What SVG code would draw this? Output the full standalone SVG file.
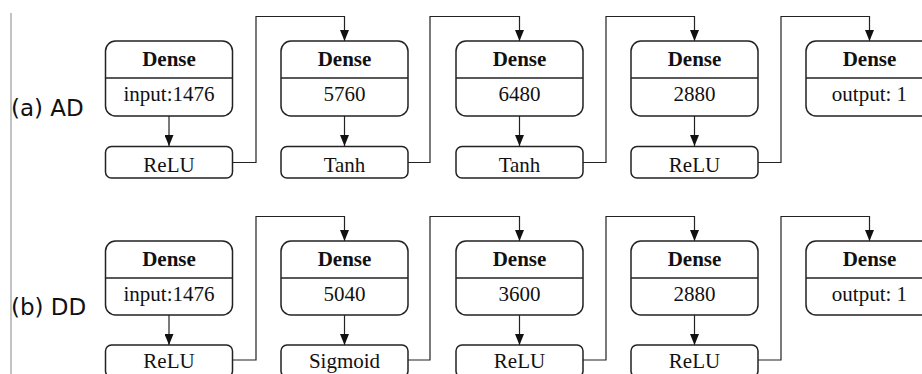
<svg xmlns="http://www.w3.org/2000/svg" width="922" height="374" viewBox="0 0 922 374">
<defs>
<marker id="ah" markerWidth="11" markerHeight="9" refX="11" refY="4.5" orient="auto" markerUnits="userSpaceOnUse" viewBox="0 0 11 9">
<path d="M0,0 L11,4.5 L0,9 Z" fill="#111"/>
</marker>
<style>
.box{fill:#fff;stroke:#222;stroke-width:1.5}
.div{stroke:#222;stroke-width:1.5}
.t{font-family:"Liberation Serif","Times New Roman",serif;font-size:21px;fill:#111;text-anchor:middle}
.b{font-weight:bold}
.lab{font-family:"DejaVu Sans",sans-serif;font-size:23px;fill:#111}
.c{fill:none;stroke:#222;stroke-width:1.2}
</style>
</defs>
<rect width="922" height="374" fill="#fff"/>
<line x1="11" y1="13" x2="11" y2="374" stroke="#888" stroke-width="1"/>
<text class="lab" x="11" y="116">(a) AD</text>
<text class="lab" x="11" y="315">(b) DD</text>

<g id="connectors">
<path class="c" d="M169,116 V146" marker-end="url(#ah)"/>
<path class="c" d="M344.5,116 V146" marker-end="url(#ah)"/>
<path class="c" d="M519.5,116 V146" marker-end="url(#ah)"/>
<path class="c" d="M694.5,116 V146" marker-end="url(#ah)"/>
<path class="c" d="M232,162.5 H256 V16.5 H344.5 V41" marker-end="url(#ah)"/>
<path class="c" d="M407,162.5 H430 V16.5 H519.5 V41" marker-end="url(#ah)"/>
<path class="c" d="M582,162.5 H606 V16.5 H694.5 V41" marker-end="url(#ah)"/>
<path class="c" d="M757,162.5 H781 V16.5 H869.5 V41" marker-end="url(#ah)"/>
<path class="c" d="M169,315 V345" marker-end="url(#ah)"/>
<path class="c" d="M344.5,315 V345" marker-end="url(#ah)"/>
<path class="c" d="M519.5,315 V345" marker-end="url(#ah)"/>
<path class="c" d="M694.5,315 V345" marker-end="url(#ah)"/>
<path class="c" d="M232,360 H256 V216.5 H344.5 V241" marker-end="url(#ah)"/>
<path class="c" d="M407,360 H430 V216.5 H519.5 V241" marker-end="url(#ah)"/>
<path class="c" d="M582,360 H606 V216.5 H694.5 V241" marker-end="url(#ah)"/>
<path class="c" d="M757,360 H781 V216.5 H869.5 V241" marker-end="url(#ah)"/>
</g>

<g id="a-dense1"><rect class="box" x="105.5" y="41" width="127" height="75" rx="10"/><line class="div" x1="105.5" y1="78" x2="232.5" y2="78"/><text class="t b" x="169" y="66">Dense</text><text class="t" x="169" y="101">input:1476</text></g>
<g id="a-act1"><rect class="box" x="105.5" y="146.5" width="127" height="31.5" rx="6"/><text class="t" x="169" y="172">ReLU</text></g>
<g id="a-dense2"><rect class="box" x="281" y="41" width="127" height="75" rx="10"/><line class="div" x1="281" y1="78" x2="408" y2="78"/><text class="t b" x="344.5" y="66">Dense</text><text class="t" x="344.5" y="101">5760</text></g>
<g id="a-act2"><rect class="box" x="281" y="146.5" width="127" height="31.5" rx="6"/><text class="t" x="344.5" y="172">Tanh</text></g>
<g id="a-dense3"><rect class="box" x="456" y="41" width="127" height="75" rx="10"/><line class="div" x1="456" y1="78" x2="583" y2="78"/><text class="t b" x="519.5" y="66">Dense</text><text class="t" x="519.5" y="101">6480</text></g>
<g id="a-act3"><rect class="box" x="456" y="146.5" width="127" height="31.5" rx="6"/><text class="t" x="519.5" y="172">Tanh</text></g>
<g id="a-dense4"><rect class="box" x="631" y="41" width="127" height="75" rx="10"/><line class="div" x1="631" y1="78" x2="758" y2="78"/><text class="t b" x="694.5" y="66">Dense</text><text class="t" x="694.5" y="101">2880</text></g>
<g id="a-act4"><rect class="box" x="631" y="146.5" width="127" height="31.5" rx="6"/><text class="t" x="694.5" y="172">ReLU</text></g>
<g id="a-dense5"><rect class="box" x="806" y="41" width="127" height="75" rx="10"/><line class="div" x1="806" y1="78" x2="933" y2="78"/><text class="t b" x="869.5" y="66">Dense</text><text class="t" x="869.5" y="101">output: 1</text></g>

<g id="b-dense1"><rect class="box" x="105.5" y="241" width="127" height="74" rx="10"/><line class="div" x1="105.5" y1="278" x2="232.5" y2="278"/><text class="t b" x="169" y="266">Dense</text><text class="t" x="169" y="301">input:1476</text></g>
<g id="b-act1"><rect class="box" x="105.5" y="345" width="127" height="32" rx="6"/><text class="t" x="169" y="368">ReLU</text></g>
<g id="b-dense2"><rect class="box" x="281" y="241" width="127" height="74" rx="10"/><line class="div" x1="281" y1="278" x2="408" y2="278"/><text class="t b" x="344.5" y="266">Dense</text><text class="t" x="344.5" y="301">5040</text></g>
<g id="b-act2"><rect class="box" x="281" y="345" width="127" height="32" rx="6"/><text class="t" x="344.5" y="368">Sigmoid</text></g>
<g id="b-dense3"><rect class="box" x="456" y="241" width="127" height="74" rx="10"/><line class="div" x1="456" y1="278" x2="583" y2="278"/><text class="t b" x="519.5" y="266">Dense</text><text class="t" x="519.5" y="301">3600</text></g>
<g id="b-act3"><rect class="box" x="456" y="345" width="127" height="32" rx="6"/><text class="t" x="519.5" y="368">ReLU</text></g>
<g id="b-dense4"><rect class="box" x="631" y="241" width="127" height="74" rx="10"/><line class="div" x1="631" y1="278" x2="758" y2="278"/><text class="t b" x="694.5" y="266">Dense</text><text class="t" x="694.5" y="301">2880</text></g>
<g id="b-act4"><rect class="box" x="631" y="345" width="127" height="32" rx="6"/><text class="t" x="694.5" y="368">ReLU</text></g>
<g id="b-dense5"><rect class="box" x="806" y="241" width="127" height="74" rx="10"/><line class="div" x1="806" y1="278" x2="933" y2="278"/><text class="t b" x="869.5" y="266">Dense</text><text class="t" x="869.5" y="301">output: 1</text></g>
</svg>
